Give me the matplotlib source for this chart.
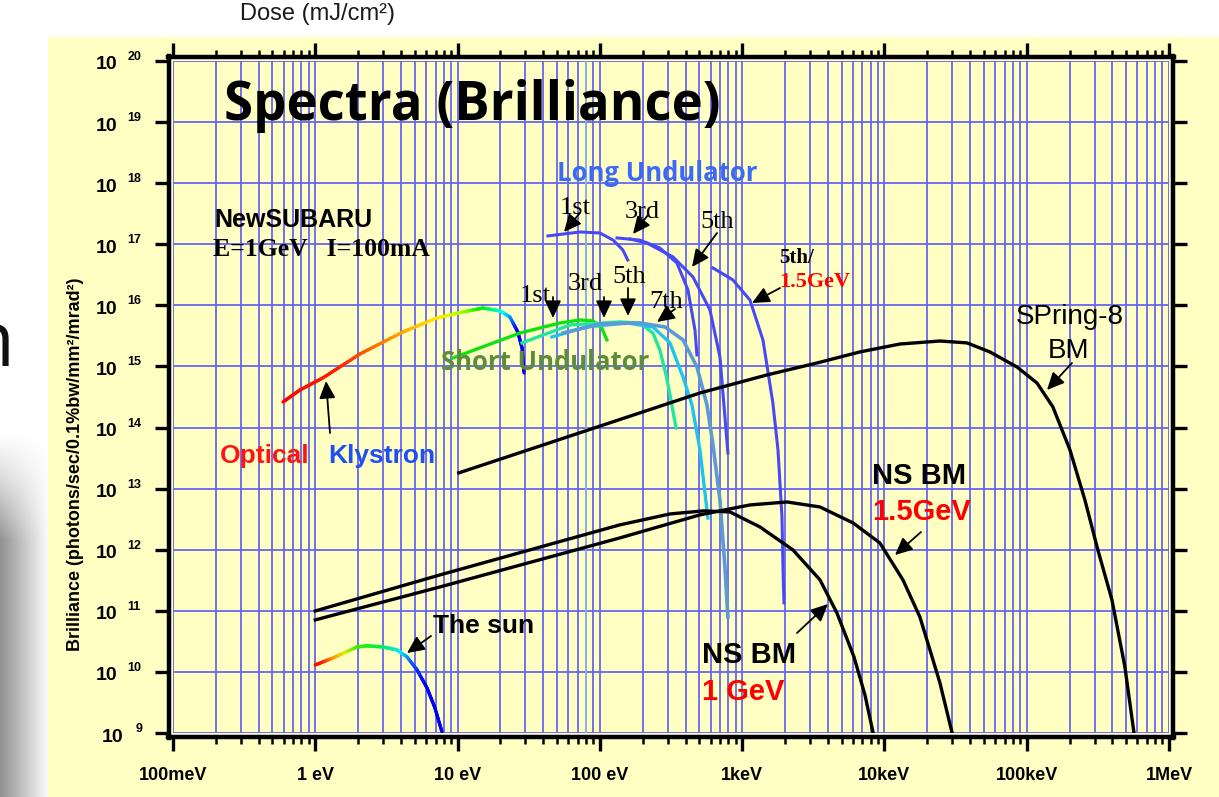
import numpy as np
import matplotlib
matplotlib.use('Agg')
import matplotlib.pyplot as plt
from matplotlib.collections import LineCollection
from matplotlib.colors import LinearSegmentedColormap
from matplotlib.patches import Rectangle
from matplotlib.ticker import FixedLocator, LogLocator, NullLocator, NullFormatter

W, H, DPI = 1219, 797, 100

# ---------------- data (photon energy in eV, brilliance) ----------------
x_ticks_eV = [0.1, 1, 10, 100, 1e3, 1e4, 1e5, 1e6]
x_tick_labels = ['100meV', '1 eV', '10 eV', '100 eV', '1keV', '10keV', '100keV', '1MeV']
y_exponents = list(range(9, 21))
highlight_grid_eV = 80

optical_E = [0.593, 0.78, 1.13, 2.06, 4.13, 7.16, 10.9, 15.1, 19.9, 23.3, 26.5, 28.4, 29.3]
optical_B = [2.62e14, 4.12e14, 6.49e14, 1.60e15, 3.67e15, 6.22e15, 7.80e15, 9.06e15,
             8.09e15, 6.46e15, 3.67e15, 2.01e15, 7.83e14]

sun_E = [1.0, 1.33, 1.96, 2.31, 2.99, 3.75, 4.41, 5.19, 6.10, 6.93, 7.77]
sun_B = [1.30e10, 1.69e10, 2.56e10, 2.67e10, 2.56e10, 2.29e10, 1.76e10, 1.08e10,
         5.47e9, 2.58e9, 1.04e9]

short1_E = [9.29, 27.5, 52.5, 72.5, 89.5, 103, 112]
short1_B = [1.38e15, 3.53e15, 5.15e15, 5.77e15, 5.56e15, 4.27e15, 2.72e15]

short3_E = [28.4, 61.7, 138, 191, 236, 264, 292, 316, 343]
short3_B = [2.43e15, 4.78e15, 5.35e15, 5.15e15, 3.53e15, 1.86e15, 7.26e14, 2.83e14, 9.84e13]

short5_E = [46.0, 81.2, 155, 236, 311, 384, 444, 505, 548, 575]
short5_B = [3.04e15, 4.43e15, 5.15e15, 4.43e15, 2.43e15, 6.73e14, 2.34e14, 4.30e13,
            8.51e12, 3.31e12]

short7_E = [55.1, 100, 191, 287, 384, 481, 566, 624, 698, 757, 794]
short7_B = [3.53e15, 4.97e15, 5.15e15, 4.43e15, 2.72e15, 9.82e14, 2.34e14, 5.19e13,
            6.53e12, 5.22e11, 7.94e10]

long1_E = [43.2, 72.5, 100, 124, 145, 157]
long1_B = [1.37e17, 1.59e17, 1.53e17, 1.17e17, 8.07e16, 5.53e16]

long3_E = [132, 191, 264, 348, 416, 466, 481]
long3_B = [1.27e17, 1.17e17, 8.69e16, 4.94e16, 1.79e16, 3.95e15, 1.54e15]

long5_E = [163, 214, 327, 451, 594, 698, 757, 794]
long5_B = [1.22e17, 1.05e17, 6.19e16, 2.92e16, 8.41e15, 1.43e15, 1.49e14, 3.84e13]

long5_15_E = [624, 861, 1135, 1400, 1644, 1786, 1905, 1936, 1968]
long5_15_B = [4.09e16, 2.61e16, 1.22e16, 2.72e15, 2.53e14, 4.30e13, 3.44e12, 5.22e11, 1.35e11]

spring8_E = [10.2, 505, 1493, 3357, 6730, 12850, 24550, 38020, 55080, 85310, 118000,
             152800, 201400, 256400, 316200, 397200, 489800, 566200]
spring8_B = [1.81e13, 3.68e14, 7.26e14, 1.14e15, 1.73e15, 2.33e15, 2.61e15, 2.43e15,
             1.73e15, 9.82e14, 5.37e14, 2.17e14, 4.30e13, 6.53e12, 9.93e11, 1.51e11,
             1.21e10, 1.04e9]

ns1_E = [1.0, 7.52, 138, 311, 531, 820, 1334, 2275, 3524, 4634, 6109, 7295, 8300]
ns1_B = [9.95e10, 3.87e11, 2.55e12, 3.85e12, 4.32e12, 4.16e12, 2.36e12, 9.93e11,
         3.21e11, 9.25e10, 1.76e10, 4.21e9, 1.04e9]

ns15_E = [1.0, 7.52, 138, 505, 1135, 2065, 3524, 6012, 9290, 13490, 17750, 20890, 24550, 29790]
ns15_B = [7.10e10, 2.46e11, 1.56e12, 3.72e12, 5.41e12, 6.05e12, 5.01e12, 2.75e12,
          1.29e12, 3.21e11, 7.94e10, 2.29e10, 6.61e9, 1.04e9]

# ---------------- styles ----------------
YEL = '#FFFFC4'
GRID = '#6666F2'
BLUE_LONG = '#4848F6'
SANS = ['Liberation Sans', 'DejaVu Sans']
SERIF = ['Liberation Serif', 'DejaVu Serif']
HUMAN = ['Open Sans', 'Lato', 'DejaVu Sans']

optical_cmap = LinearSegmentedColormap.from_list('opt', [
    (0.0, '#FF0000'), (0.22, '#FF2200'), (0.42, '#FF9900'), (0.58, '#FFEE00'),
    (0.65, '#AAFF00'), (0.71, '#00EE00'), (0.79, '#00FFFF'), (0.86, '#0000FF'),
    (1.0, '#2200CC')])
sun_cmap = LinearSegmentedColormap.from_list('sun', [
    (0.0, '#FF0000'), (0.05, '#FF2200'), (0.11, '#FF9900'), (0.18, '#DDEE00'),
    (0.26, '#33EE00'), (0.38, '#00EE44'), (0.5, '#00EEFF'), (0.58, '#1060FF'),
    (0.7, '#0000FF'), (1.0, '#0000EE')])

fig = plt.figure(figsize=(W / DPI, H / DPI), dpi=DPI)
fig.patch.set_facecolor('white')
fig.add_artist(Rectangle((48 / W, 0), 1 - 48 / W, (H - 37) / H, transform=fig.transFigure,
                         facecolor=YEL, edgecolor='none', zorder=-10))

# grey gradient at the far left (slide background)
g_top = 430
gax = fig.add_axes([0, 0, 48 / W, (H - g_top) / H])
gx = np.linspace(0.57, 0.98, 48)
gy = np.clip(np.arange(H - g_top) / 110.0, 0, 1)
img = np.ones((H - g_top, 48, 4))
for c in range(3):
    img[:, :, c] = gx[None, :]
img[:, :, 3] = gy[:, None] ** 1.3
gax.imshow(img, aspect='auto', interpolation='bilinear', extent=[0, 1, 0, 1], origin='upper')
gax.axis('off')

ax = fig.add_axes([173 / W, 1 - 733 / H, (1169 - 173) / W, (733 - 61) / H])
ax.set_facecolor(YEL)
ax.set_xscale('log')
ax.set_yscale('log')
ax.set_xlim(0.1, 1e6)
ax.set_ylim(1e9, 1e20)

ax.xaxis.set_major_locator(FixedLocator(x_ticks_eV))
ax.xaxis.set_minor_locator(LogLocator(base=10, subs=np.arange(2, 10), numticks=100))
ax.xaxis.set_major_formatter(NullFormatter())
ax.xaxis.set_minor_formatter(NullFormatter())
ax.yaxis.set_major_locator(FixedLocator([10.0 ** k for k in y_exponents]))
ax.yaxis.set_minor_locator(NullLocator())
ax.yaxis.set_major_formatter(NullFormatter())

ax.set_axisbelow(True)
ax.grid(True, which='both', axis='x', color=GRID, lw=1.3)
ax.grid(True, which='major', axis='y', color=GRID, lw=1.3)
ax.axvline(highlight_grid_eV, color='#8CB8F2', lw=1.3, zorder=0.7)

off = 3.0
ext_x = 5 / 142.3
ext_y = 5 / 61.1
for name, sp in ax.spines.items():
    sp.set_position(('outward', off))
    sp.set_linewidth(3.2)
    sp.set_color('black')
ax.spines['left'].set_bounds(10 ** (9 - ext_y), 10 ** (20 + ext_y))
ax.spines['right'].set_bounds(10 ** (9 - ext_y), 10 ** (20 + ext_y))
ax.spines['top'].set_bounds(10 ** (-1 - ext_x), 10 ** (6 + ext_x))
ax.spines['bottom'].set_bounds(10 ** (-1 - ext_x), 10 ** (6 + ext_x))

ax.tick_params(which='major', direction='out', length=10, width=2.4, top=True, right=True,
               color='black')
ax.tick_params(which='minor', direction='out', length=5, width=1.8, top=True, right=True,
               color='black')

# ---------------- curves ----------------
def gradient_line(E, B, cmap, lw):
    fig.canvas.draw()
    pts = ax.transData.transform(np.column_stack([E, B]))
    sub_pts = []
    for i in range(len(pts) - 1):
        for f in np.linspace(0, 1, 12, endpoint=False):
            sub_pts.append(pts[i] + f * (pts[i + 1] - pts[i]))
    sub_pts.append(pts[-1])
    sub_pts = np.array(sub_pts)
    seglen = np.hypot(*np.diff(sub_pts, axis=0).T)
    s = np.concatenate([[0], np.cumsum(seglen)])
    s = s / s[-1]
    data_pts = ax.transData.inverted().transform(sub_pts)
    segs = np.stack([data_pts[:-1], data_pts[1:]], axis=1)
    tmid = 0.5 * (s[:-1] + s[1:])
    lc = LineCollection(segs, colors=cmap(tmid), linewidths=lw, capstyle='round', zorder=3)
    ax.add_collection(lc)

gradient_line(optical_E, optical_B, optical_cmap, 2.4)
gradient_line(sun_E, sun_B, sun_cmap, 2.4)

ax.plot(short1_E, short1_B, color='#11E011', lw=2.4, zorder=3)
ax.plot(short3_E, short3_B, color='#22E6A0', lw=2.4, zorder=3)
ax.plot(short5_E, short5_B, color='#1EC4F0', lw=2.4, zorder=3)
ax.plot(short7_E, short7_B, color='#5A9AD6', lw=2.6, zorder=3)

for E, B in [(long1_E, long1_B), (long3_E, long3_B), (long5_E, long5_B), (long5_15_E, long5_15_B)]:
    ax.plot(E, B, color=BLUE_LONG, lw=2.2, zorder=3)

for E, B in [(spring8_E, spring8_B), (ns1_E, ns1_B), (ns15_E, ns15_B)]:
    ax.plot(E, B, color='black', lw=2.4, zorder=4)

# ---------------- tick labels ----------------
for e, lab in zip(x_ticks_eV, x_tick_labels):
    ax.annotate(lab, xy=(e, 0), xycoords=('data', 'axes fraction'), xytext=(0, -43 * 0.72),
                textcoords='offset points', ha='center', va='center', fontsize=13,
                fontweight='bold', family=SANS, annotation_clip=False)
for k in y_exponents:
    r10 = -56 if k >= 10 else -50
    rex = -32 if k >= 10 else -31
    ax.annotate('10', xy=(0, 10.0 ** k), xycoords=('axes fraction', 'data'),
                xytext=(r10 * 0.72, -4 * 0.72), textcoords='offset points', ha='right',
                va='center', fontsize=14, fontweight='bold', family=SANS, annotation_clip=False)
    ax.annotate(str(k), xy=(0, 10.0 ** k), xycoords=('axes fraction', 'data'),
                xytext=(rex * 0.72, 4 * 0.72), textcoords='offset points', ha='right',
                va='center', fontsize=9, fontweight='bold', family=SANS, annotation_clip=False)

# ---------------- texts ----------------
def ftext(x, y, s, **kw):
    kw.setdefault('va', 'baseline')
    kw.setdefault('ha', 'left')
    return fig.text(x / W, 1 - y / H, s, **kw)

def arrow(x0, y0, x1, y1, ms=14):
    ax.annotate('', xy=(x1, H - y1), xycoords='figure pixels', xytext=(x0, H - y0),
                textcoords='figure pixels', annotation_clip=False,
                arrowprops=dict(arrowstyle='-|>,head_length=0.75,head_width=0.35', lw=1.3,
                                color='black', shrinkA=0, shrinkB=0, mutation_scale=ms))

ftext(240, 20, 'Dose (mJ/cm²)', fontsize=17, family=SANS, color='#1a1a1a')
ftext(14, 366, 'n', fontsize=55, family=['Open Sans', 'DejaVu Sans'], ha='right', color='#111111')
ftext(76, 464, 'Brilliance (photons/sec/0.1%bw/mm²/mrad²)', rotation=90, ha='center',
      va='center', fontsize=13, fontweight='bold', family=SANS)

ftext(224, 120, 'Spectra (Brilliance)', fontsize=38, fontweight='bold', family=HUMAN)
ftext(214, 227, 'NewSUBARU', fontsize=18, fontweight='bold', family=SANS)
ftext(213, 256, 'E=1GeV   I=100mA', fontsize=18.5, fontweight='bold', family=SERIF)

ftext(557, 181, 'Long Undulator', fontsize=18.5, fontweight='bold', family=HUMAN, color='#3B6AF7')
ftext(441, 370, 'Short Undulator', fontsize=18.5, fontweight='bold', family=HUMAN, color='#5E8C3E')

ftext(560, 214, '1st', fontsize=19, family=SERIF)
ftext(625, 218, '3rd', fontsize=19, family=SERIF)
ftext(700, 228, '5th', fontsize=19, family=SERIF)
ftext(779, 263, '5th/', fontsize=15, fontweight='bold', family=SERIF)
ftext(779, 287, '1.5GeV', fontsize=16, fontweight='bold', family=SERIF, color='#FF0000')

ftext(520, 302, '1st', fontsize=19, family=SERIF)
ftext(568, 290, '3rd', fontsize=19, family=SERIF)
ftext(612, 283, '5th', fontsize=19, family=SERIF)
ftext(649, 308, '7th', fontsize=19, family=SERIF)

ftext(220, 463, 'Optical', fontsize=19, fontweight='bold', family=SANS, color='#FF1414')
ftext(328, 463, 'Klystron', fontsize=19, fontweight='bold', family=SANS, color='#1F4EF5')
ftext(433, 633, 'The sun', fontsize=19, fontweight='bold', family=SANS)

ftext(702, 663, 'NS BM', fontsize=21, fontweight='bold', family=SANS)
ftext(702, 700, '1 GeV', fontsize=21, fontweight='bold', family=SANS, color='#FF0000')
ftext(872, 484, 'NS BM', fontsize=21, fontweight='bold', family=SANS)
ftext(872, 520, '1.5GeV', fontsize=21, fontweight='bold', family=SANS, color='#FF0000')
ftext(1070, 324, 'SPring-8', fontsize=20, family=SANS, ha='center')
ftext(1068, 358, 'BM', fontsize=20, family=SANS, ha='center')

# arrows (tail -> tip)
arrow(330, 433, 326, 381)
arrow(431, 636, 407, 653)
arrow(580, 213, 564, 232)
arrow(648, 215, 633, 234)
arrow(717, 233, 692, 267)
arrow(780, 288, 752, 303)
arrow(553, 297, 553, 318)
arrow(604, 297, 604, 318)
arrow(628, 288, 628, 316)
arrow(675, 309, 657, 322)
arrow(1072, 363, 1047, 390)
arrow(921, 532, 895, 555)
arrow(797, 633, 828, 604)

fig.savefig('out.png', dpi=DPI, facecolor=fig.get_facecolor())
